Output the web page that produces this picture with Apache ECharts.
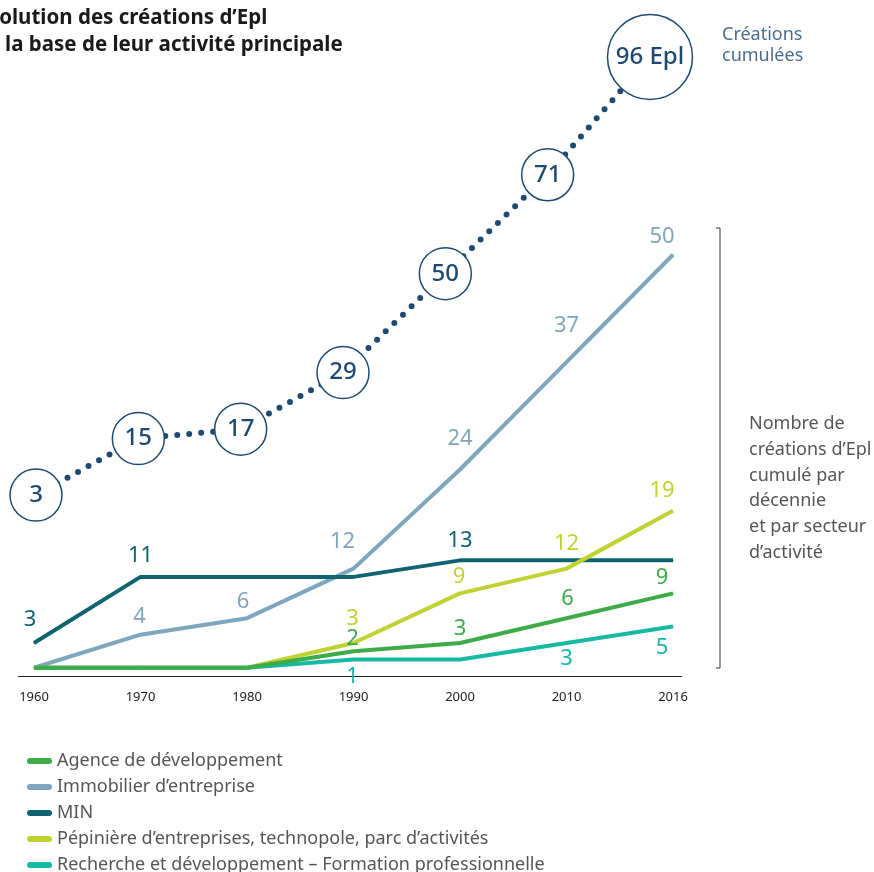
<!DOCTYPE html>
<html><head><meta charset="utf-8">
<script src="https://cdn.jsdelivr.net/npm/echarts@6/dist/echarts.min.js"></script>
<style>html,body{margin:0;padding:0;background:#fff}#c{width:874px;height:872px}</style>
</head><body><div id="c"></div><script>
// ---- data ----
const years = ['1960','1970','1980','1990','2000','2010','2016'];
const agence = [0,0,0,2,3,6,9];
const immobilier = [0,4,6,12,24,37,50];
const minData = [3,11,11,11,13,13,13];
const pepiniere = [0,0,0,3,9,12,19];
const recherche = [0,0,0,1,1,3,5];
const cumul = [3,15,17,29,50,71,96];
const seriesNames = ['Agence de développement','Immobilier d’entreprise','MIN','Pépinière d’entreprises, technopole, parc d’activités','Recherche et développement – Formation professionnelle'];

// ---- style ----
const FONT = 'Noto Sans';
const navy = '#1e4a72';
const colors = {
  agence: '#3dac48', immo: '#7ea6bd', min: '#0f6470', pep: '#bfd232', rech: '#16b9a4'
};
// label offsets (style) per point index: [dx, dy] from point centre
const lblAgence = {3:[-1,-12],4:[0,-14],5:[1,-19],6:[-11,-16]};
const lblImmo = {1:[-1,-18],2:[-4,-16],3:[-11,-27],4:[0,-31],5:[0,-36],6:[-11,-18]};
const lblMin = {0:[-4,-23],1:[0,-21],4:[0,-20]};
const lblPep = {3:[-1,-24],4:[-1,-17],5:[0,-25],6:[-11,-20]};
const lblRech = {3:[-1,17],5:[0,16],6:[-11,21]};

function mk(name, values, color, lbl, z) {
  return {
    type: 'line', name: name, z: z,
    data: values.map((v, i) => lbl[i] ? {
      value: v,
      label: {show: true, position: 'inside', offset: lbl[i], color: color, fontSize: 22, fontFamily: FONT}
    } : v),
    symbol: 'circle', symbolSize: 1, showAllSymbol: true,
    lineStyle: {color: color, width: 4},
    itemStyle: {color: color},
    label: {show: false},
    emphasis: {disabled: true},
    silent: true
  };
}

const chart = echarts.init(document.getElementById('c'), null, {renderer: 'canvas'});
const pill = 'path://M3,0 H22 A3,3 0 0 1 22,6 H3 A3,3 0 0 1 3,0 Z';

chart.setOption({
  animation: false,
  backgroundColor: '#fff',
  textStyle: {fontFamily: FONT},
  grid: [
    {left: 34, right: 201, top: 40, bottom: 196, containLabel: false},
    {left: 36, right: 224, top: 40, bottom: 196, containLabel: false}
  ],
  xAxis: [{
    type: 'category', data: years, boundaryGap: false, gridIndex: 0,
    axisLine: {show: false}, axisTick: {show: false}, splitLine: {show: false},
    axisLabel: {color: '#222', fontSize: 13, margin: 15, fontFamily: FONT}
  }, {
    type: 'category', data: years, boundaryGap: false, gridIndex: 1, show: false
  }],
  yAxis: [
    {type: 'value', min: -1, max: 76, show: false, splitLine: {show: false}, gridIndex: 0},
    {type: 'value', min: -35.4, max: 99.6, show: false, splitLine: {show: false}, gridIndex: 1}
  ],
  legend: {
    data: seriesNames,
    orient: 'vertical', left: 22, top: 746, height: 200,
    itemWidth: 25, itemHeight: 6, itemGap: 6,
    icon: pill,
    selectedMode: false,
    textStyle: {fontSize: 18, color: '#555', lineHeight: 20, fontFamily: FONT}
  },
  series: [
    mk(seriesNames[1], immobilier, colors.immo, lblImmo, 2),
    mk(seriesNames[2], minData, colors.min, lblMin, 2),
    mk(seriesNames[3], pepiniere, colors.pep, lblPep, 2),
    mk(seriesNames[4], recherche, colors.rech, lblRech, 2),
    mk(seriesNames[0], agence, colors.agence, lblAgence, 2),
    {
      type: 'line', name: 'Créations cumulées', xAxisIndex: 1, yAxisIndex: 1, z: 5, clip: false,
      silent: true, emphasis: {disabled: true},
      data: cumul.map((v, i) => i === cumul.length - 1 ? {
        value: v, symbolSize: 85,
        label: {formatter: '{c} Epl', fontSize: 24}
      } : {value: v}),
      symbol: 'circle', symbolSize: 52, showAllSymbol: true,
      itemStyle: {color: '#fff', borderColor: navy, borderWidth: 1.5},
      lineStyle: {color: navy, width: 6, type: [0, 12], cap: 'round'},
      label: {show: true, position: 'inside', color: navy, fontSize: 24, fontWeight: 500, fontFamily: FONT}
    }
  ],
  graphic: [
    {type: 'text', left: -24, top: 8, style: {
      text: 'Évolution des créations d’Epl',
      font: 'bold 20.5px "Noto Sans"', fill: '#1a1a1a'}},
    {type: 'text', left: -33, top: 35, style: {
      text: 'sur la base de leur activité principale',
      font: 'bold 20.5px "Noto Sans"', fill: '#1a1a1a'}},
    {type: 'text', left: 722, top: 24, style: {
      text: 'Créations\ncumulées', font: '18px "Noto Sans"', fill: '#4d6d8f', lineHeight: 21}},
    {type: 'text', left: 749, top: 411, style: {
      text: 'Nombre de\ncréations d’Epl\ncumulé par\ndécennie\net par secteur\nd’activité',
      font: '18px "Noto Sans"', fill: '#555', lineHeight: 25.8}},
    {type: 'polyline', shape: {points: [[716,228],[720,228],[720,668],[716,668]]},
      style: {stroke: '#333', lineWidth: 1, fill: null}},
    {type: 'line', shape: {x1: 18, y1: 676.5, x2: 682, y2: 676.5},
      style: {stroke: '#222', lineWidth: 1}}
  ]
});
</script></body></html>
